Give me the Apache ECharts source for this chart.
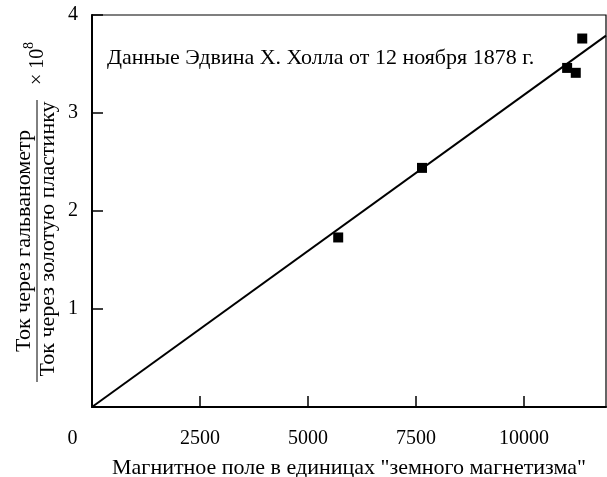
<!DOCTYPE html>
<html>
<head>
<meta charset="utf-8">
<script src="https://cdn.jsdelivr.net/npm/echarts@6/dist/echarts.min.js"></script>
<style>
html,body{margin:0;padding:0;background:#fff;}
#chart{width:607px;height:477px;}
</style>
</head>
<body>
<div id="chart"></div>
<script>
// Data
const fieldValues = [5700, 7640, 11000, 11200, 11350];
const currentRatios = [1.73, 2.44, 3.46, 3.41, 3.76];
const fitLineX = [0, 11900];
const fitLineY = [0, 3.79];
const xTicks = [0, 2500, 5000, 7500, 10000];
const yTicks = [1, 2, 3, 4];
const xAxisTitle = 'Магнитное поле в единицах "земного магнетизма"';
const yNumerator = 'Ток через гальванометр';
const yDenominator = 'Ток через золотую пластинку';
const annotation = 'Данные Эдвина Х. Холла от 12 ноября 1878 г.';

const FONT = 'Liberation Serif';
const FS = 20;   // tick labels
const FT = 22;   // titles / annotation

const chart = echarts.init(document.getElementById('chart'), null, {renderer: 'canvas'});

const pts = fieldValues.map((v, i) => [v, currentRatios[i]]);
const fit = fitLineX.map((v, i) => [v, fitLineY[i]]);

chart.setOption({
  animation: false,
  backgroundColor: '#fff',
  grid: {
    left: 92, right: 1, top: 15, bottom: 70,
    outerBoundsMode: 'none',
    containLabel: false,
    show: true, borderColor: '#000', borderWidth: 1.2
  },
  xAxis: {
    type: 'value',
    min: 0, max: 11900, interval: 2500,
    axisLine: {show: true, lineStyle: {color: '#000', width: 2}},
    axisTick: {show: true, inside: true, length: 11, lineStyle: {color: '#000', width: 1.5}},
    splitLine: {show: false},
    axisLabel: {
      color: '#000', fontFamily: FONT, fontSize: FS, margin: 22,
      showMaxLabel: false,
      formatter: function (v) {
        if (xTicks.indexOf(v) < 0) return '';
        return v === 0 ? '{z|0}' : String(v);
      },
      rich: {z: {fontFamily: FONT, fontSize: FS, color: '#000', padding: [0, 39, 0, 0]}}
    },
    name: xAxisTitle,
    nameLocation: 'middle',
    nameGap: 50,
    nameTextStyle: {color: '#000', fontFamily: FONT, fontSize: FT}
  },
  yAxis: {
    type: 'value',
    min: 0, max: 4, interval: 1,
    axisLine: {show: true, lineStyle: {color: '#000', width: 2}},
    axisTick: {show: true, inside: true, length: 11, lineStyle: {color: '#000', width: 1.5}},
    splitLine: {show: false},
    axisLabel: {
      color: '#000', fontFamily: FONT, fontSize: FS, margin: 14,
      formatter: function (v) { return yTicks.indexOf(v) >= 0 ? String(v) : ''; }
    }
  },
  graphic: [
    {
      type: 'text', left: 107, top: 47, silent: true,
      style: {text: annotation, fill: '#000', font: FT + 'px "' + FONT + '"'}
    },
    {
      type: 'group', x: 37, y: 241, rotation: Math.PI / 2, silent: true,
      children: [
        {type: 'text', x: 0, y: -2,
          style: {text: yNumerator, fill: '#000', font: FT + 'px "' + FONT + '"', align: 'center', verticalAlign: 'bottom'}},
        {type: 'line', shape: {x1: -141, y1: 0, x2: 141, y2: 0},
          style: {stroke: '#000', lineWidth: 1}},
        {type: 'text', x: 2, y: 0,
          style: {text: yDenominator, fill: '#000', font: FT + 'px "' + FONT + '"', align: 'center', verticalAlign: 'top'}},
        {type: 'text', x: 156, y: 1,
          style: {text: '× 10', fill: '#000', font: FS + 'px "' + FONT + '"', align: 'left', verticalAlign: 'middle'}},
        {type: 'text', x: 192, y: -8,
          style: {text: '8', fill: '#000', font: '14px "' + FONT + '"', align: 'left', verticalAlign: 'middle'}}
      ]
    }
  ],
  series: [
    {
      type: 'line',
      data: fit,
      showSymbol: false,
      symbol: 'none',
      lineStyle: {color: '#000', width: 2},
      silent: true,
      z: 2
    },
    {
      type: 'scatter',
      data: pts,
      symbol: 'rect',
      symbolSize: 10,
      itemStyle: {color: '#000', opacity: 1},
      z: 3
    }
  ]
});
</script>
</body>
</html>
